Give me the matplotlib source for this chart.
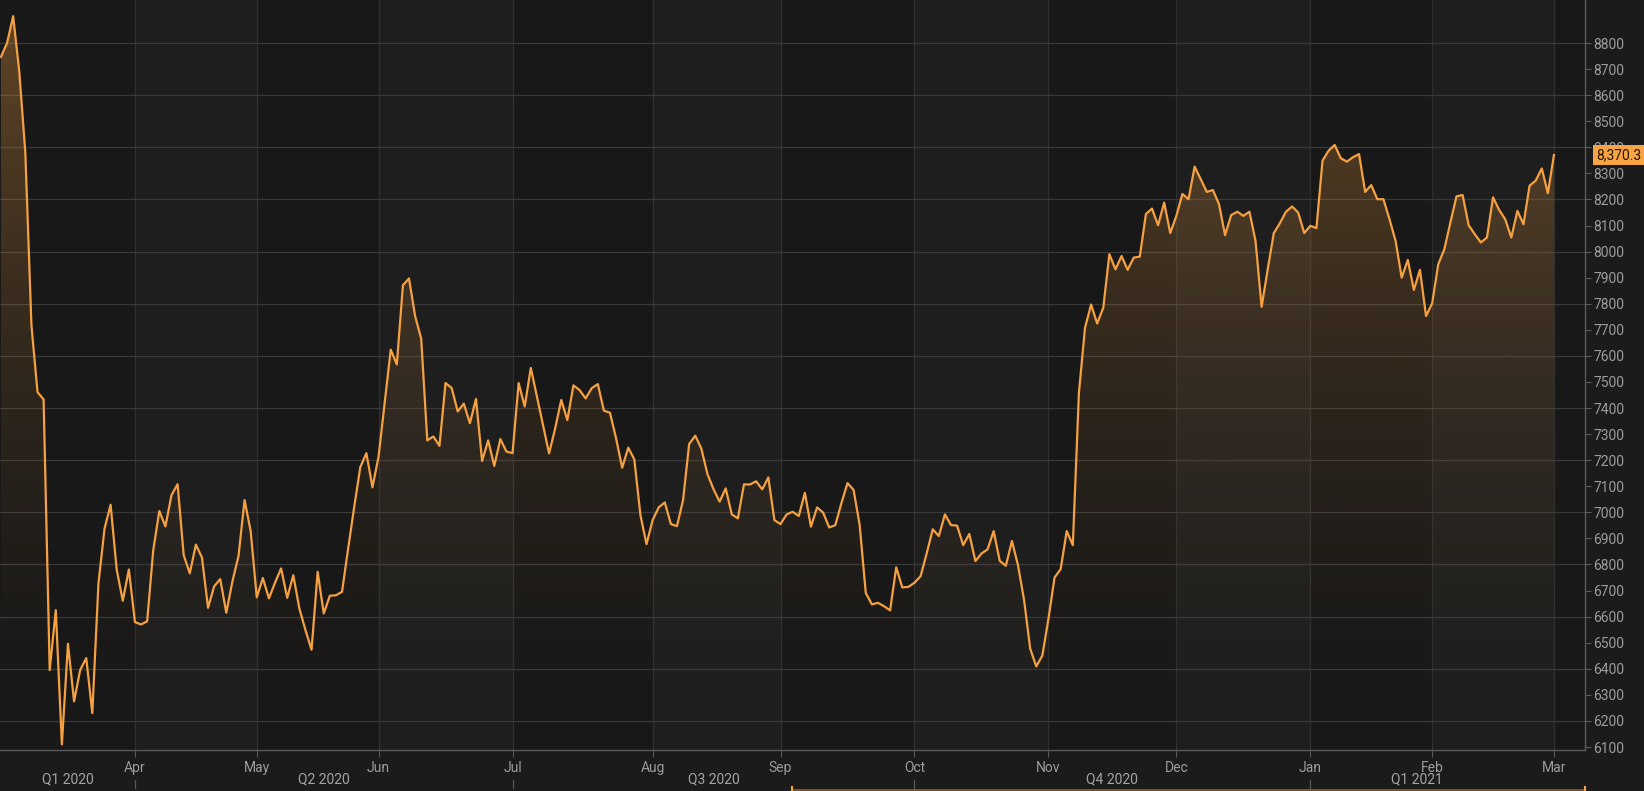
import matplotlib.pyplot as plt
import matplotlib.transforms as mtransforms
from matplotlib.lines import Line2D
import numpy as np
import pandas as pd

plt.rcParams['font.family'] = ['Roboto', 'DejaVu Sans']

# trading days, 2 Mar 2020 - 1 Mar 2021 (exchange holidays taken out)
holidays = ['2020-04-10', '2020-04-13', '2020-05-01', '2020-12-25', '2021-01-01']
dates = pd.bdate_range('2020-03-02', '2021-03-01')
dates = dates[~dates.isin(pd.to_datetime(holidays))]

# daily close
close = [
    8747, 8800, 8903, 8692, 8379, 7718, 7461, 7433, 6395, 6625,
    6110, 6496, 6275, 6395, 6441, 6230, 6726, 6937, 7029, 6781,
    6661, 6781, 6579, 6570, 6582, 6854, 7005, 6946, 7066, 7108,
    6836, 6766, 6876, 6827, 6634, 6716, 6744, 6615, 6735, 6832,
    7047, 6928, 6674, 6748, 6670, 6730, 6785, 6672, 6759, 6631,
    6548, 6473, 6772, 6612, 6680, 6682, 6695, 6860, 7020, 7173,
    7227, 7096, 7214, 7419, 7624, 7567, 7871, 7897, 7753, 7666,
    7276, 7291, 7255, 7496, 7477, 7387, 7417, 7342, 7435, 7197,
    7276, 7178, 7281, 7233, 7227, 7496, 7406, 7554, 7445, 7336,
    7226, 7322, 7431, 7354, 7487, 7469, 7437, 7476, 7492, 7390,
    7382, 7284, 7171, 7248, 7203, 6989, 6878, 6970, 7019, 7038,
    6955, 6947, 7047, 7262, 7294, 7245, 7147, 7089, 7041, 7092,
    6992, 6977, 7107, 7107, 7119, 7088, 7134, 6970, 6955, 6992,
    7002, 6986, 7075, 6945, 7019, 6999, 6942, 6951, 7035, 7112,
    7086, 6951, 6691, 6647, 6653, 6640, 6624, 6789, 6712, 6714,
    6730, 6755, 6842, 6935, 6909, 6992, 6951, 6949, 6874, 6917,
    6813, 6842, 6858, 6928, 6814, 6795, 6890, 6797, 6663, 6477,
    6409, 6451, 6592, 6750, 6782, 6928, 6874, 7458, 7708, 7797,
    7724, 7785, 7990, 7932, 7983, 7930, 7977, 7981, 8144, 8165,
    8101, 8188, 8071, 8137, 8221, 8201, 8326, 8278, 8229, 8236,
    8182, 8063, 8140, 8153, 8137, 8153, 8041, 7788, 7932, 8071,
    8109, 8153, 8173, 8150, 8071, 8099, 8090, 8349, 8387, 8409,
    8358, 8345, 8362, 8374, 8229, 8255, 8201, 8201, 8124, 8041,
    7900, 7968, 7853, 7930, 7753, 7801, 7951, 8009, 8112, 8212,
    8217, 8101, 8067, 8035, 8054, 8208, 8160, 8124, 8054, 8156,
    8105, 8253, 8272, 8319, 8224, 8370.3,
]
last_value = 8370.3
y_ticks = list(range(6100, 8801, 100))
grid_levels = list(range(6200, 8801, 200))
quarter_names = ['Q1 2020', 'Q2 2020', 'Q3 2020', 'Q4 2020', 'Q1 2021']

ORANGE = '#f5a142'
BG = '#1b1b1b'
DARK = '#181818'
LIGHT = '#1e1e1e'
TXT = '#9c9c9c'

x = np.arange(len(close))
month_start = [i for i in range(1, len(dates)) if dates[i].month != dates[i - 1].month]
month_names = [dates[i].strftime('%b') for i in month_start]
quarter_start = [i for i in month_start if dates[i].month in (1, 4, 7, 10)]

fig = plt.figure(figsize=(16.44, 7.91), dpi=100, facecolor=BG)
ax = fig.add_axes([0, 41 / 791, 1585 / 1644, 750 / 791])
xmin, xmax = -0.16, 260.1
ymin, ymax = 6088.5, 8965
ax.set_xlim(xmin, xmax)
ax.set_ylim(ymin, ymax)
ax.set_facecolor(DARK)

# alternating month bands
edges = [xmin] + month_start + [xmax]
for k in range(len(edges) - 1):
    ax.axvspan(edges[k], edges[k + 1], color=DARK if k % 2 == 0 else LIGHT, lw=0, zorder=0)

for m in month_start:
    ax.axvline(m, color='#303030', lw=0.9, zorder=1)
for g in grid_levels:
    ax.axhline(g, color='#393939', lw=0.9, zorder=1)

# gradient fill under the line
poly = ax.fill_between(x, close, ymin, facecolor='none', edgecolor='none')
grad = np.zeros((256, 1, 4))
grad[..., :3] = plt.matplotlib.colors.to_rgb(ORANGE)
grad[:, 0, 3] = 0.34 * np.linspace(1, 0, 256) ** 1.6
im = ax.imshow(grad, extent=[xmin, xmax, ymin, ymax], aspect='auto', zorder=2)
im.set_clip_path(poly.get_paths()[0], transform=ax.transData)

ax.plot(x, close, color=ORANGE, lw=1.6, zorder=3)

# axes
for s in ['left', 'top']:
    ax.spines[s].set_visible(False)
for s in ['right', 'bottom']:
    ax.spines[s].set_color('#5a5a5a')
    ax.spines[s].set_linewidth(1)
ax.yaxis.tick_right()
ax.set_yticks(y_ticks)
ax.set_xticks(month_start, month_names)
ax.tick_params(axis='y', length=4, width=0.8, color='#5a5a5a', labelcolor=TXT,
               labelsize=10, pad=2)
ax.tick_params(axis='x', length=5, width=0.8, color='#5a5a5a', labelcolor=TXT,
               labelsize=10, pad=3)

# quarter row under the month labels
bt = mtransforms.blended_transform_factory(ax.transData, fig.transFigure)
q_edges = [xmin] + quarter_start + [x[-1] - 5]
for k, name in enumerate(quarter_names):
    ax.text((q_edges[k] + q_edges[k + 1]) / 2, (791 - 779) / 791, name, transform=bt,
            ha='center', va='center', color='#a4a4a4', fontsize=10, clip_on=False)
for q in quarter_start:
    ax.add_line(Line2D([q, q], [(791 - 780) / 791, (791 - 788) / 791], transform=bt,
                       color='#5a5a5a', lw=0.9, clip_on=False))

# last price tag (sits over the 8400 label, as in the original)
pt = mtransforms.blended_transform_factory(fig.transFigure, ax.transData)
fig.text(1596 / 1644, last_value, f'{last_value:,.1f}', transform=pt, ha='left', va='center',
         color='#2a1500', fontsize=10, zorder=5,
         bbox=dict(boxstyle='square,pad=0.2', fc='#f7a444', ec='none'))

# top edge of the range navigator
fig.add_artist(Line2D([792 / 1644, 1585 / 1644], [1.5 / 791, 1.5 / 791], color='#7a5126', lw=1.5))
for xe in (792, 1585):
    fig.add_artist(Line2D([xe / 1644, xe / 1644], [0, 4 / 791], color=ORANGE, lw=1.5))

fig.savefig('out.png', dpi=100, facecolor=fig.get_facecolor())
